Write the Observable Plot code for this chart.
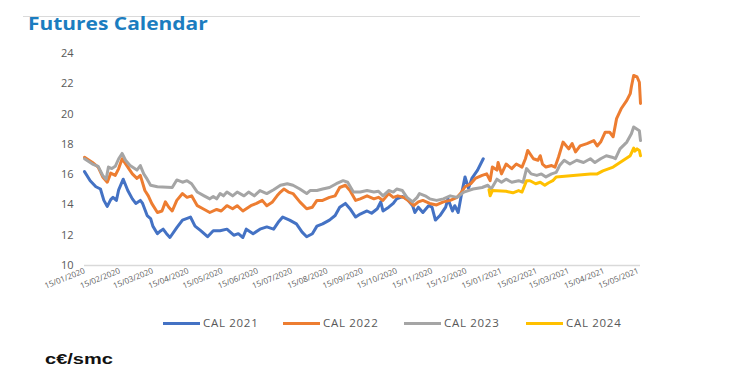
<!DOCTYPE html>
<html>
<head>
<meta charset="utf-8">
<script src="https://cdn.jsdelivr.net/npm/d3@7"></script>
<script src="https://cdn.jsdelivr.net/npm/@observablehq/plot@0.6"></script>
<style>
  html, body { margin: 0; padding: 0; background: #fff; }
  body { width: 732px; height: 376px; position: relative; overflow: hidden; font-family: "Open Sans", sans-serif; }
  #rule { position: absolute; left: 23px; top: 15.5px; width: 617px; height: 0; border-top: 1px solid #dadada; }
  #title { position: absolute; left: 28px; top: 10.5px; font-family: "Open Sans", sans-serif; font-weight: 700; font-size: 17.6px; color: #1b7dc0; white-space: nowrap; transform: scaleX(1.19); transform-origin: left top; line-height: normal; }
  #chart { position: absolute; left: 0; top: 0; }
  .sw { position: absolute; height: 3px; width: 37px; top: 321.5px; }
  .lt { position: absolute; top: 314.5px; font-size: 11.5px; color: #595959; letter-spacing: 0.7px; white-space: nowrap; line-height: normal; }
  #unit { position: absolute; left: 45px; top: 350.5px; font-family: "Liberation Sans", Arial, sans-serif; font-weight: 700; font-size: 14px; color: #111; transform: scaleX(1.43); transform-origin: left top; line-height: normal; white-space: nowrap; }
</style>
</head>
<body>
<div id="rule"></div>
<div id="title">Futures Calendar</div>
<div id="chart"></div>
<div id="legend"></div>
<div id="unit">c€/smc</div>
<script>
// ---- data ----
const seriesNames = ["CAL 2021", "CAL 2022", "CAL 2023", "CAL 2024"];
const seriesColors = ["#4472C4", "#ED7D31", "#A5A5A5", "#FFC000"];
const yTicks = [10, 12, 14, 16, 18, 20, 22, 24];
const xTickLabels = ["15/01/2020","15/02/2020","15/03/2020","15/04/2020","15/05/2020","15/06/2020","15/07/2020","15/08/2020","15/09/2020","15/10/2020","15/11/2020","15/12/2020","15/01/2021","15/02/2021","15/03/2021","15/04/2021","15/05/2021"];
const xDomain = ["2020-01-15", "2021-05-17"];

const cal2021 = [["2020-01-15",16.2],["2020-01-20",15.6],["2020-01-25",15.2],["2020-01-29",15.05],["2020-02-01",14.3],["2020-02-04",13.9],["2020-02-07",14.35],["2020-02-09",14.5],["2020-02-12",14.3],["2020-02-14",15.0],["2020-02-18",15.7],["2020-02-22",14.95],["2020-02-26",14.4],["2020-02-29",14.1],["2020-03-04",14.3],["2020-03-06",14.1],["2020-03-10",13.3],["2020-03-13",13.1],["2020-03-15",12.6],["2020-03-19",12.1],["2020-03-22",12.3],["2020-03-24",12.4],["2020-03-27",12.1],["2020-03-30",11.85],["2020-04-05",12.5],["2020-04-10",13.0],["2020-04-17",13.2],["2020-04-21",12.6],["2020-04-26",12.3],["2020-05-02",11.9],["2020-05-07",12.3],["2020-05-13",12.3],["2020-05-19",12.4],["2020-05-25",12.0],["2020-05-29",12.1],["2020-06-02",11.85],["2020-06-05",12.4],["2020-06-11",12.1],["2020-06-17",12.4],["2020-06-23",12.55],["2020-06-29",12.4],["2020-07-03",12.85],["2020-07-07",13.2],["2020-07-13",13.0],["2020-07-19",12.75],["2020-07-24",12.2],["2020-07-28",11.9],["2020-08-02",12.1],["2020-08-06",12.6],["2020-08-11",12.75],["2020-08-17",13.0],["2020-08-22",13.3],["2020-08-26",13.85],["2020-08-31",14.1],["2020-09-04",13.75],["2020-09-09",13.2],["2020-09-13",13.4],["2020-09-19",13.6],["2020-09-23",13.45],["2020-09-28",13.75],["2020-10-01",14.2],["2020-10-03",13.6],["2020-10-08",13.85],["2020-10-12",14.1],["2020-10-15",14.4],["2020-10-20",14.55],["2020-10-24",14.4],["2020-10-29",13.95],["2020-10-31",13.5],["2020-11-03",13.85],["2020-11-07",13.5],["2020-11-12",13.95],["2020-11-15",13.85],["2020-11-18",13.0],["2020-11-22",13.3],["2020-11-27",13.85],["2020-11-29",14.4],["2020-12-03",13.6],["2020-12-05",13.95],["2020-12-08",13.5],["2020-12-11",14.75],["2020-12-14",15.85],["2020-12-17",15.1],["2020-12-20",15.75],["2020-12-25",16.3],["2020-12-30",17.05]];

const cal2022 = [["2020-01-15",17.15],["2020-01-22",16.8],["2020-01-27",16.5],["2020-01-31",15.85],["2020-02-04",15.5],["2020-02-07",16.1],["2020-02-11",15.95],["2020-02-14",16.4],["2020-02-17",17.05],["2020-02-22",16.5],["2020-02-26",16.05],["2020-03-01",15.75],["2020-03-04",15.95],["2020-03-08",14.95],["2020-03-11",14.6],["2020-03-14",14.1],["2020-03-19",13.5],["2020-03-23",13.6],["2020-03-26",14.2],["2020-03-29",13.85],["2020-04-01",13.6],["2020-04-05",14.3],["2020-04-10",14.75],["2020-04-14",14.5],["2020-04-18",14.6],["2020-04-23",13.95],["2020-04-28",13.75],["2020-05-04",13.5],["2020-05-10",13.7],["2020-05-14",13.6],["2020-05-19",13.95],["2020-05-24",13.75],["2020-05-28",13.95],["2020-06-02",13.6],["2020-06-09",13.95],["2020-06-14",14.1],["2020-06-19",14.3],["2020-06-23",13.95],["2020-06-28",14.2],["2020-07-02",14.6],["2020-07-05",14.85],["2020-07-08",15.05],["2020-07-12",14.85],["2020-07-16",14.75],["2020-07-22",14.2],["2020-07-28",13.75],["2020-08-02",13.85],["2020-08-06",14.3],["2020-08-11",14.3],["2020-08-17",14.5],["2020-08-22",14.6],["2020-08-26",15.15],["2020-08-31",15.3],["2020-09-04",14.95],["2020-09-09",14.3],["2020-09-13",14.4],["2020-09-19",14.6],["2020-09-25",14.4],["2020-09-29",14.5],["2020-10-03",14.3],["2020-10-08",14.75],["2020-10-12",14.5],["2020-10-16",14.6],["2020-10-21",14.5],["2020-10-25",14.3],["2020-10-30",13.95],["2020-11-03",14.2],["2020-11-07",14.3],["2020-11-13",14.1],["2020-11-19",14.0],["2020-11-25",14.2],["2020-12-01",14.3],["2020-12-07",14.5],["2020-12-10",14.75],["2020-12-14",15.2],["2020-12-19",15.4],["2020-12-23",15.75],["2020-12-29",15.95],["2021-01-02",16.05],["2021-01-05",15.6],["2021-01-07",16.5],["2021-01-11",16.3],["2021-01-12",16.8],["2021-01-15",16.05],["2021-01-19",16.7],["2021-01-24",16.4],["2021-01-28",16.7],["2021-02-02",16.5],["2021-02-05",17.05],["2021-02-07",17.6],["2021-02-12",17.05],["2021-02-16",16.95],["2021-02-18",17.25],["2021-02-20",16.7],["2021-02-23",16.5],["2021-02-28",16.6],["2021-03-03",16.5],["2021-03-06",17.15],["2021-03-10",18.15],["2021-03-15",17.7],["2021-03-18",18.05],["2021-03-21",17.5],["2021-03-25",17.9],["2021-03-31",18.05],["2021-04-06",18.25],["2021-04-09",17.9],["2021-04-12",18.15],["2021-04-16",18.8],["2021-04-20",18.8],["2021-04-23",18.5],["2021-04-26",19.7],["2021-04-30",20.35],["2021-05-05",20.9],["2021-05-08",21.35],["2021-05-09",21.8],["2021-05-11",22.55],["2021-05-14",22.45],["2021-05-16",22.1],["2021-05-17",20.7]];

const cal2023 = [["2020-01-15",17.05],["2020-01-22",16.7],["2020-01-27",16.55],["2020-01-31",15.95],["2020-02-03",15.7],["2020-02-05",16.5],["2020-02-08",16.4],["2020-02-11",16.55],["2020-02-14",17.05],["2020-02-17",17.4],["2020-02-20",16.95],["2020-02-24",16.6],["2020-03-01",16.3],["2020-03-04",16.6],["2020-03-07",16.05],["2020-03-10",15.7],["2020-03-13",15.3],["2020-03-19",15.2],["2020-04-01",15.15],["2020-04-05",15.65],["2020-04-10",15.5],["2020-04-14",15.6],["2020-04-18",15.4],["2020-04-23",14.85],["2020-04-29",14.6],["2020-05-04",14.4],["2020-05-07",14.55],["2020-05-10",14.4],["2020-05-13",14.75],["2020-05-16",14.6],["2020-05-19",14.85],["2020-05-24",14.6],["2020-05-28",14.85],["2020-06-03",14.6],["2020-06-07",14.85],["2020-06-12",14.6],["2020-06-17",14.95],["2020-06-23",14.75],["2020-06-29",15.0],["2020-07-05",15.3],["2020-07-11",15.4],["2020-07-16",15.3],["2020-07-22",15.05],["2020-07-28",14.75],["2020-07-31",14.95],["2020-08-06",14.95],["2020-08-11",15.05],["2020-08-17",15.15],["2020-08-23",15.4],["2020-08-29",15.6],["2020-09-02",15.5],["2020-09-07",14.85],["2020-09-13",14.85],["2020-09-19",14.95],["2020-09-25",14.85],["2020-09-29",14.9],["2020-10-03",14.6],["2020-10-08",14.95],["2020-10-12",14.85],["2020-10-15",15.05],["2020-10-20",14.95],["2020-10-24",14.5],["2020-10-29",14.2],["2020-11-02",14.5],["2020-11-04",14.75],["2020-11-09",14.6],["2020-11-13",14.4],["2020-11-19",14.3],["2020-11-25",14.4],["2020-12-01",14.6],["2020-12-07",14.5],["2020-12-13",14.85],["2020-12-21",15.05],["2020-12-29",15.15],["2021-01-03",15.3],["2021-01-06",15.05],["2021-01-11",15.7],["2021-01-15",15.5],["2021-01-19",15.7],["2021-01-24",15.5],["2021-01-30",15.6],["2021-02-03",15.5],["2021-02-06",16.4],["2021-02-10",16.05],["2021-02-15",15.95],["2021-02-19",16.05],["2021-02-23",15.85],["2021-02-28",16.05],["2021-03-04",16.15],["2021-03-07",16.6],["2021-03-11",16.95],["2021-03-16",16.7],["2021-03-22",16.95],["2021-03-28",16.8],["2021-04-03",17.05],["2021-04-07",16.8],["2021-04-12",17.05],["2021-04-17",17.25],["2021-04-22",17.15],["2021-04-25",17.05],["2021-04-29",17.7],["2021-05-05",18.15],["2021-05-09",18.7],["2021-05-11",19.15],["2021-05-14",19.0],["2021-05-16",18.9],["2021-05-17",18.25]];

const cal2024 = [["2021-01-04",15.0],["2021-01-05",14.6],["2021-01-07",14.95],["2021-01-19",14.9],["2021-01-25",14.8],["2021-01-30",14.95],["2021-02-02",14.85],["2021-02-06",15.6],["2021-02-09",15.6],["2021-02-14",15.4],["2021-02-18",15.5],["2021-02-22",15.3],["2021-02-25",15.45],["2021-03-01",15.6],["2021-03-04",15.85],["2021-03-19",15.95],["2021-04-03",16.05],["2021-04-09",16.05],["2021-04-14",16.25],["2021-04-23",16.5],["2021-05-02",16.95],["2021-05-08",17.25],["2021-05-11",17.75],["2021-05-12",17.55],["2021-05-14",17.7],["2021-05-16",17.6],["2021-05-17",17.25]];

const seriesData = [cal2021, cal2022, cal2023, cal2024];

// ---- build ----
const parse = d3.utcParse("%Y-%m-%d");
const parseTick = d3.utcParse("%d/%m/%Y");
const rows = [];
seriesNames.forEach((name, i) => {
  seriesData[i].forEach(([d, v]) => rows.push({series: name, date: parse(d), value: v}));
});

const chart = Plot.plot({
  width: 732,
  height: 300,
  marginLeft: 84,
  marginRight: 92,
  marginTop: 53,
  marginBottom: 35,
  style: {fontFamily: "'Open Sans', sans-serif", fontSize: "11px", color: "#595959", background: "transparent", overflow: "visible"},
  x: {type: "utc", domain: xDomain.map(parse)},
  y: {domain: [yTicks[0], yTicks[yTicks.length - 1]]},
  color: {domain: seriesNames, range: seriesColors},
  marks: [
    Plot.ruleY([yTicks[0]], {stroke: "#d9d9d9", strokeWidth: 1.5}),
    Plot.axisY({ticks: yTicks, tickSize: 0, tickPadding: 11, label: null, fontSize: 11}),
    Plot.axisX({ticks: xTickLabels.map(parseTick), tickFormat: d3.utcFormat("%d/%m/%Y"), tickRotate: -22, tickSize: 0, tickPadding: 5, fontSize: 8, label: null}),
    Plot.line(rows, {x: "date", y: "value", z: "series", stroke: "series", strokeWidth: 3, strokeLinejoin: "round", strokeLinecap: "round"})
  ]
});
document.getElementById("chart").appendChild(chart);

// ---- legend ----
const legendX = [163, 283, 404, 526];
const legend = document.getElementById("legend");
seriesNames.forEach((name, i) => {
  const sw = document.createElement("div");
  sw.className = "sw";
  sw.style.left = legendX[i] + "px";
  sw.style.background = seriesColors[i];
  legend.appendChild(sw);
  const t = document.createElement("div");
  t.className = "lt";
  t.style.left = (legendX[i] + 40) + "px";
  t.textContent = name;
  legend.appendChild(t);
});
</script>
</body>
</html>
